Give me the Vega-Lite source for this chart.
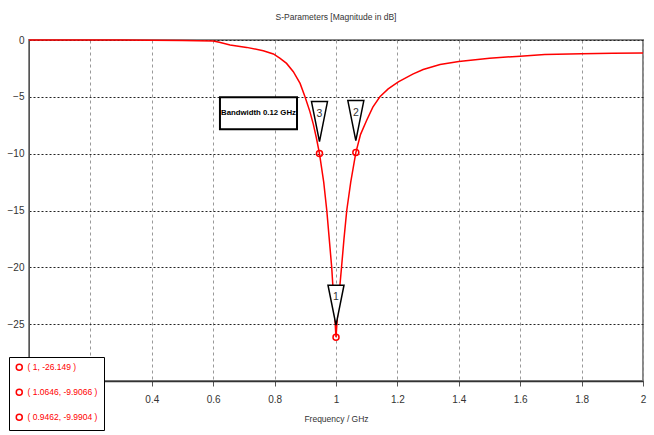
{
  "$schema": "https://vega.github.io/schema/vega-lite/v6.json",
  "autosize": {"type": "none"},
  "padding": {"left": 29, "top": 40, "right": 11, "bottom": 54},
  "width": 614,
  "height": 341,
  "background": "white",
  "title": {
    "text": "S-Parameters [Magnitude in dB]",
    "font": "Liberation Sans",
    "fontSize": 8.5,
    "fontWeight": "normal",
    "color": "#333333",
    "anchor": "middle",
    "offset": 14
  },
  "config": {
    "view": {"stroke": "#888888", "strokeWidth": 2},
    "axis": {
      "labelFont": "Liberation Sans",
      "labelFontSize": 10,
      "labelColor": "#333333",
      "titleFont": "Liberation Sans",
      "titleFontSize": 8.5,
      "titleFontWeight": "normal",
      "titleColor": "#333333"
    }
  },
  "datasets": {
    "curve": [
      {"f": 0.0, "db": 0.0},
      {"f": 0.1, "db": 0.0},
      {"f": 0.2, "db": -0.01},
      {"f": 0.3, "db": -0.01},
      {"f": 0.4, "db": -0.02},
      {"f": 0.5, "db": -0.04},
      {"f": 0.6, "db": -0.08},
      {"f": 0.62, "db": -0.2},
      {"f": 0.655, "db": -0.44},
      {"f": 0.709, "db": -0.65},
      {"f": 0.763, "db": -0.94},
      {"f": 0.796, "db": -1.23},
      {"f": 0.818, "db": -1.62},
      {"f": 0.839, "db": -2.06},
      {"f": 0.861, "db": -2.79},
      {"f": 0.883, "db": -3.82},
      {"f": 0.899, "db": -5.0},
      {"f": 0.915, "db": -6.3},
      {"f": 0.926, "db": -7.4},
      {"f": 0.936, "db": -8.6},
      {"f": 0.9462, "db": -9.99},
      {"f": 0.96, "db": -12.5},
      {"f": 0.97, "db": -15.0},
      {"f": 0.978, "db": -17.5},
      {"f": 0.986, "db": -20.0},
      {"f": 0.993, "db": -23.0},
      {"f": 1.0, "db": -26.15},
      {"f": 1.008, "db": -23.0},
      {"f": 1.018, "db": -20.0},
      {"f": 1.026, "db": -17.5},
      {"f": 1.035, "db": -15.0},
      {"f": 1.048, "db": -12.5},
      {"f": 1.0646, "db": -9.91},
      {"f": 1.08, "db": -8.3},
      {"f": 1.1, "db": -7.06},
      {"f": 1.12, "db": -5.9},
      {"f": 1.143, "db": -5.0},
      {"f": 1.17, "db": -4.3},
      {"f": 1.203, "db": -3.68},
      {"f": 1.25, "db": -3.0},
      {"f": 1.284, "db": -2.6},
      {"f": 1.339, "db": -2.15},
      {"f": 1.4, "db": -1.9},
      {"f": 1.5, "db": -1.6},
      {"f": 1.6, "db": -1.42},
      {"f": 1.68, "db": -1.28},
      {"f": 1.8, "db": -1.2},
      {"f": 1.9, "db": -1.17},
      {"f": 2.0, "db": -1.15}
    ],
    "markers": [
      {"id": "1", "f": 1.0, "db": -26.149, "label": "( 1, -26.149 )"},
      {"id": "2", "f": 1.0646, "db": -9.9066, "label": "( 1.0646, -9.9066 )"},
      {"id": "3", "f": 0.9462, "db": -9.9904, "label": "( 0.9462, -9.9904 )"}
    ]
  },
  "layer": [
    {
      "data": {"name": "curve"},
      "mark": {"type": "line", "color": "#ff0000", "strokeWidth": 1.5, "interpolate": "linear"},
      "encoding": {
        "x": {
          "field": "f", "type": "quantitative",
          "scale": {"domain": [0, 2], "nice": false, "zero": false},
          "axis": {
            "values": [0, 0.2, 0.4, 0.6, 0.8, 1, 1.2, 1.4, 1.6, 1.8, 2],
            "format": "~g",
            "labelExpr": "datum.value < 0.3 ? '' : datum.label",
            "title": "Frequency / GHz",
            "grid": true, "gridColor": "#999999", "gridDash": [3, 3], "gridWidth": 1,
            "domainColor": "#333333", "domainWidth": 1.5,
            "tickColor": "#555555", "tickSize": 5,
            "labelPadding": 8, "labelFlush": false,
            "titlePadding": 10
          }
        },
        "y": {
          "field": "db", "type": "quantitative",
          "scale": {"domain": [-30, 0], "nice": false, "zero": false},
          "axis": {
            "values": [0, -5, -10, -15, -20, -25],
            "title": null,
            "grid": true, "gridColor": "#222222", "gridDash": [2, 2], "gridWidth": 1,
            "domainColor": "#555555", "domainWidth": 1,
            "ticks": false,
            "labelPadding": 5
          }
        }
      }
    },
    {
      "data": {"name": "markers"},
      "mark": {"type": "point", "shape": "M0,-1.5L-1,-6.5L1,-6.5Z", "size": 256, "filled": true, "fill": "white", "stroke": "black", "strokeWidth": 1.5, "opacity": 1},
      "encoding": {
        "x": {"field": "f", "type": "quantitative"},
        "y": {"field": "db", "type": "quantitative"}
      }
    },
    {
      "data": {"name": "markers"},
      "mark": {"type": "text", "dy": -40, "baseline": "middle", "align": "center", "font": "Liberation Sans", "fontSize": 10.5, "color": "#333333"},
      "encoding": {
        "x": {"field": "f", "type": "quantitative"},
        "y": {"field": "db", "type": "quantitative"},
        "text": {"field": "id"}
      }
    },
    {
      "data": {"name": "markers"},
      "mark": {"type": "point", "shape": "circle", "size": 36, "filled": false, "strokeWidth": 1.5, "opacity": 1},
      "encoding": {
        "x": {"field": "f", "type": "quantitative"},
        "y": {"field": "db", "type": "quantitative"},
        "color": {
          "field": "label", "type": "nominal",
          "scale": {"domain": ["( 1, -26.149 )", "( 1.0646, -9.9066 )", "( 0.9462, -9.9904 )"], "range": ["#ff0000", "#ff0000", "#ff0000"]},
          "legend": {
            "title": null,
            "orient": "none",
            "legendX": -20,
            "legendY": 317,
            "padding": 6,
            "fillColor": "white",
            "strokeColor": "black",
            "labelFont": "Liberation Sans",
            "labelFontSize": 8.5,
            "labelColor": "#ff0000",
            "labelOffset": 4,
            "symbolSize": 36,
            "symbolStrokeWidth": 1.5,
            "rowPadding": 12
          }
        }
      }
    },
    {
      "data": {"values": [{"label": "Bandwidth 0.12 GHz"}]},
      "mark": {"type": "rect", "fill": "white", "stroke": "black", "strokeWidth": 2},
      "encoding": {
        "x": {"datum": 0.622, "type": "quantitative"},
        "x2": {"datum": 0.873},
        "y": {"datum": -5.03, "type": "quantitative"},
        "y2": {"datum": -7.85}
      }
    },
    {
      "data": {"values": [{"label": "Bandwidth 0.12 GHz"}]},
      "mark": {"type": "text", "font": "Liberation Sans", "fontSize": 7.8, "fontWeight": "bold", "color": "black", "align": "center", "baseline": "middle"},
      "encoding": {
        "x": {"datum": 0.7475, "type": "quantitative"},
        "y": {"datum": -6.44, "type": "quantitative"},
        "text": {"field": "label"}
      }
    }
  ]
}
